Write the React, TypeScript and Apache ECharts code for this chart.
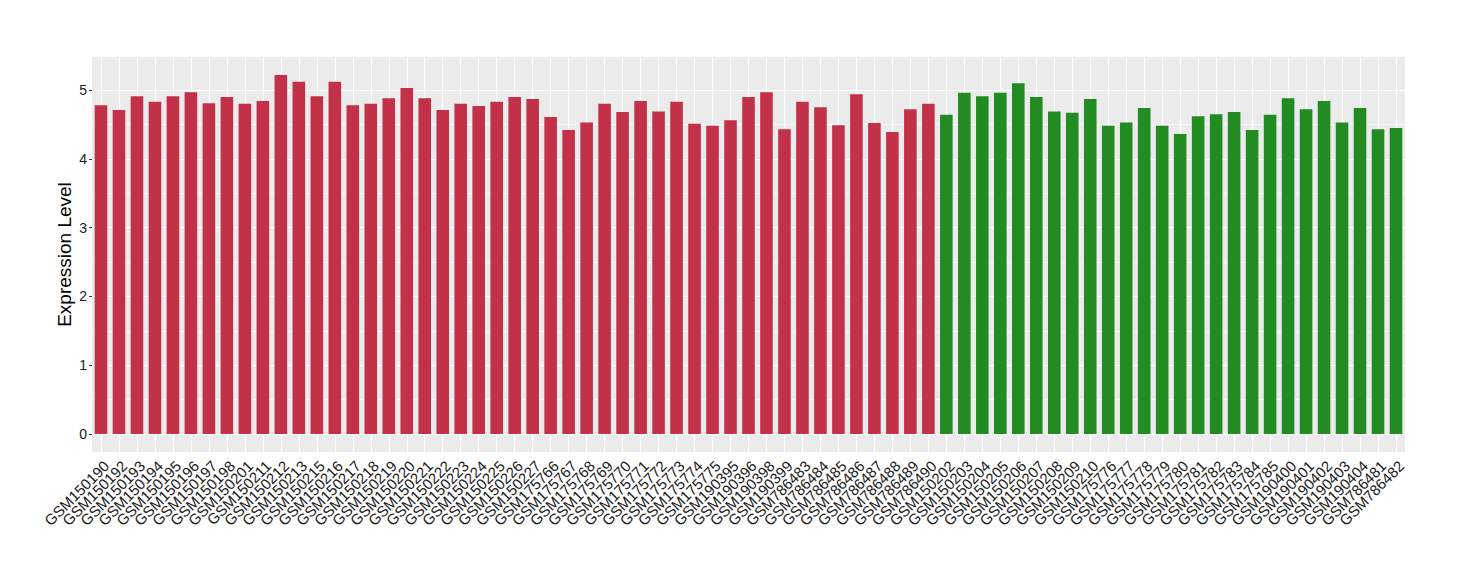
import React, { useEffect, useRef } from "react";
import * as echarts from "echarts";

const redSamples = [
  "GSM150190", "GSM150192", "GSM150193", "GSM150194", "GSM150195", "GSM150196", "GSM150197", "GSM150198",
  "GSM150201", "GSM150211", "GSM150212", "GSM150213", "GSM150215", "GSM150216", "GSM150217", "GSM150218",
  "GSM150219", "GSM150220", "GSM150221", "GSM150222", "GSM150223", "GSM150224", "GSM150225", "GSM150226",
  "GSM150227", "GSM175766", "GSM175767", "GSM175768", "GSM175769", "GSM175770", "GSM175771", "GSM175772",
  "GSM175773", "GSM175774", "GSM175775", "GSM190395", "GSM190396", "GSM190398", "GSM190399", "GSM786483",
  "GSM786484", "GSM786485", "GSM786486", "GSM786487", "GSM786488", "GSM786489", "GSM786490",
];
const redValues = [
  4.78, 4.71, 4.91, 4.83, 4.91, 4.97, 4.81, 4.90,
  4.80, 4.84, 5.22, 5.12, 4.91, 5.12, 4.78, 4.80,
  4.88, 5.03, 4.88, 4.71, 4.80, 4.77, 4.83, 4.90,
  4.87, 4.61, 4.42, 4.53, 4.80, 4.68, 4.84, 4.69,
  4.83, 4.51, 4.48, 4.56, 4.90, 4.97, 4.43, 4.83,
  4.75, 4.49, 4.94, 4.52, 4.39, 4.72, 4.80,
];
const greenSamples = [
  "GSM150202", "GSM150203", "GSM150204", "GSM150205", "GSM150206", "GSM150207", "GSM150208", "GSM150209",
  "GSM150210", "GSM175776", "GSM175777", "GSM175778", "GSM175779", "GSM175780", "GSM175781", "GSM175782",
  "GSM175783", "GSM175784", "GSM175785", "GSM190400", "GSM190401", "GSM190402", "GSM190403", "GSM190404",
  "GSM786481", "GSM786482",
];
const greenValues = [
  4.64, 4.96, 4.91, 4.96, 5.10, 4.90, 4.69, 4.67,
  4.87, 4.48, 4.53, 4.74, 4.48, 4.36, 4.62, 4.65,
  4.68, 4.42, 4.64, 4.88, 4.72, 4.84, 4.53, 4.74,
  4.43, 4.45,
];
const yTicks = [0, 1, 2, 3, 4, 5];
const yMinor = [0.5, 1.5, 2.5, 3.5, 4.5];

const RED = "#C33149";
const GREEN = "#228B22";
const FONT = "Liberation Sans, Arial, sans-serif";

export default function App() {
  const ref = useRef<HTMLDivElement>(null);
  useEffect(() => {
    if (!ref.current) return;
    const chart = echarts.init(ref.current, null, { renderer: "svg" });
    const categories = [...redSamples, ...greenSamples];
    const data = [
      ...redValues.map((v) => ({ value: v, itemStyle: { color: RED } })),
      ...greenValues.map((v) => ({ value: v, itemStyle: { color: GREEN } })),
    ];
    const maxV = Math.max(...redValues, ...greenValues);
    const pad = maxV * 0.05;
    chart.setOption({
      animation: false,
      grid: {
        left: 92,
        right: 55,
        top: 57,
        bottom: 128,
        show: true,
        backgroundColor: "#EBEBEB",
        borderWidth: 0,
      },
      xAxis: {
        type: "category",
        data: categories,
        axisLine: { show: false },
        axisTick: { show: true, alignWithLabel: true, length: 3, lineStyle: { color: "#333333", width: 1 } },
        axisLabel: {
          interval: 0,
          rotate: 45,
          fontSize: 15,
          fontFamily: FONT,
          color: "#1A1A1A",
          margin: 6,
          align: "right",
          verticalAlign: "top",
        },
        splitLine: { show: false },
      },
      yAxis: {
        type: "value",
        min: -pad,
        max: maxV + pad,
        name: "Expression Level",
        nameLocation: "middle",
        nameGap: 18,
        nameMoveOverlap: false,
        nameTextStyle: { fontSize: 19, fontFamily: FONT, color: "#000000" },
        axisLine: { show: false },
        axisTick: { show: true, length: 3, customValues: yTicks, lineStyle: { color: "#333333", width: 1 } },
        axisLabel: {
          customValues: yTicks,
          fontSize: 14,
          fontFamily: FONT,
          color: "#1A1A1A",
          margin: 5,
          formatter: (v: number) => (Math.abs(v - Math.round(v)) < 1e-6 ? String(Math.round(v)) : ""),
        },
        splitLine: { show: true, lineStyle: { color: "#FFFFFF", width: 1.2 } },
      },
      series: [
        {
          type: "bar",
          data,
          barWidth: "70%",
          z: 2,
          markLine: {
            z: 1,
            silent: true,
            symbol: "none",
            label: { show: false },
            lineStyle: { color: "#FFFFFF", width: 1.2, type: "solid" },
            emphasis: { disabled: true },
            data: [
              ...categories.map((c) => ({ xAxis: c })),
              ...yMinor.map((v) => ({ yAxis: v, lineStyle: { color: "#FFFFFF", width: 0.6, type: "solid" } })),
            ],
          },
        },
      ],
    });
    return () => chart.dispose();
  }, []);
  return (
    <div
      ref={ref}
      style={{ position: "fixed", left: 0, top: 0, width: 1460, height: 580, background: "#FFFFFF" }}
    />
  );
}
